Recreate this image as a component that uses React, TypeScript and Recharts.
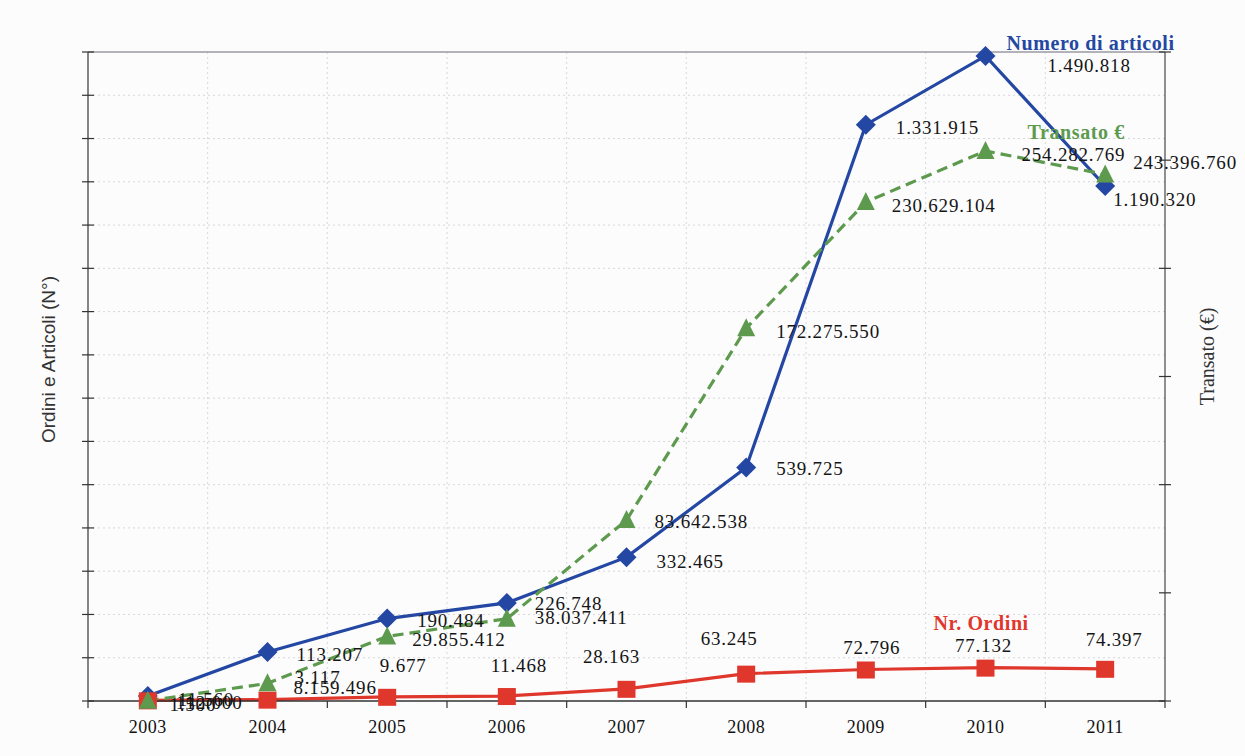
import React from 'react';
import { LineChart, Line, XAxis, YAxis, CartesianGrid, LabelList, ReferenceLine } from 'recharts';

const years = ['2003', '2004', '2005', '2006', '2007', '2008', '2009', '2010', '2011'];
const articoli = [11560, 113207, 190484, 226748, 332465, 539725, 1331915, 1490818, 1190320];
const transato = [112000, 8159496, 29855412, 38037411, 83642538, 172275550, 230629104, 254282769, 243396760];
const ordini = [1500, 3117, 9677, 11468, 28163, 63245, 72796, 77132, 74397];

const leftTicks = [0, 100000, 200000, 300000, 400000, 500000, 600000, 700000, 800000, 900000, 1000000, 1100000, 1200000, 1300000, 1400000, 1500000];
const rightTicks = [0, 50000000, 100000000, 150000000, 200000000, 250000000, 300000000];

// label offsets (px) relative to each point
const artOffsets = [[30, 4], [29, 2], [30, 2], [28, 1], [30, 4], [30, 1], [30, 3], [62, 10], [8, 14]];
const traOffsets = [[28, 2], [26, 4], [25, 3], [28, -1], [28, 1], [30, 3], [26, 3], [36, 4], [28, -12]];
const ordOffsets = [[45, 4], [50, -22], [16, -31], [12, -31], [-15, -32], [-17, -35], [6, -22], [-2, -22], [9, -29]];

const BLUE = '#2347a2';
const GREEN = '#5e9a4e';
const RED = '#e0372c';
const SERIF = '"Liberation Serif", "Times New Roman", serif';

const data = years.map((year, i) => ({
  pos: i + 0.5,
  year,
  articoli: articoli[i],
  transato: transato[i],
  ordini: ordini[i],
}));

const xTicks = years.flatMap((_, i) => [i, i + 0.5]).concat(years.length);
const boundaries = years.slice(1).map((_, i) => i + 1);

const fmt = (n: number) => String(n).replace(/\B(?=(\d{3})+(?!\d))/g, '.');

const XTick = (props: any) => {
  const { x, y, payload } = props;
  const v = payload.value;
  if (Number.isInteger(v)) {
    return <line x1={x} x2={x} y1={y} y2={y + 7} stroke="#333" strokeWidth={1.2} />;
  }
  return (
    <text x={x} y={y + 32} textAnchor="middle" fontFamily={SERIF} fontSize={18} letterSpacing={0.5} fill="#111">
      {years[Math.floor(v)]}
    </text>
  );
};

const YTick = (props: any) => {
  const { x, y } = props;
  return <line x1={x - 6} x2={x + 6} y1={y} y2={y} stroke="#333" strokeWidth={1.2} />;
};

const Diamond = (p: any) => {
  const { cx, cy } = p;
  if (cx == null || cy == null) return <g key={p.key} />;
  return (
    <path
      key={`dia-${p.index}`}
      d={`M${cx},${cy - 10} L${cx + 10},${cy} L${cx},${cy + 10} L${cx - 10},${cy} Z`}
      fill={BLUE}
    />
  );
};

const Triangle = (p: any) => {
  const { cx, cy } = p;
  if (cx == null || cy == null) return <g key={p.key} />;
  return (
    <path
      key={`tri-${p.index}`}
      d={`M${cx},${cy - 10} L${cx + 9},${cy + 8} L${cx - 9},${cy + 8} Z`}
      fill={GREEN}
    />
  );
};

const Square = (p: any) => {
  const { cx, cy } = p;
  if (cx == null || cy == null) return <g key={p.key} />;
  return <rect key={`sq-${p.index}`} x={cx - 9} y={cy - 8} width={18} height={17} fill={RED} />;
};

const valueLabel = (offsets: number[][], anchor: string) => (p: any) => {
  const { x, y, value, index } = p;
  const [dx, dy] = offsets[index];
  return (
    <text
      x={x + dx}
      y={y + dy}
      textAnchor={anchor}
      dominantBaseline="central"
      fontFamily={SERIF}
      fontSize={19}
      letterSpacing={0.8}
      fill="#151515"
    >
      {fmt(value)}
    </text>
  );
};

const nameLabel = (name: string, color: string, dx: number, dy: number) => (p: any) => {
  if (p.index !== 7) return null;
  return (
    <text
      x={p.x + dx}
      y={p.y + dy}
      dominantBaseline="central"
      fontFamily={SERIF}
      fontWeight="bold"
      fontSize={20}
      letterSpacing={0.6}
      fill={color}
    >
      {name}
    </text>
  );
};

const LeftTitle = (p: any) => {
  const vb = p.viewBox;
  const x = vb.x + 48;
  const y = vb.y + vb.height / 2 - 17;
  return (
    <text
      x={x}
      y={y}
      transform={`rotate(-90, ${x}, ${y})`}
      textAnchor="middle"
      dominantBaseline="central"
      fontFamily='"Liberation Sans", Arial, sans-serif'
      fontSize={19}
      fill="#333"
    >
      Ordini e Articoli (N°)
    </text>
  );
};

const RightTitle = (p: any) => {
  const vb = p.viewBox;
  const x = vb.x + 42;
  const y = vb.y + vb.height / 2 - 20;
  return (
    <text
      x={x}
      y={y}
      transform={`rotate(-90, ${x}, ${y})`}
      textAnchor="middle"
      dominantBaseline="central"
      fontFamily={SERIF}
      fontSize={20}
      fill="#333"
    >
      Transato (€)
    </text>
  );
};

const App = () => {
  return (
    <div style={{ position: 'absolute', left: 0, top: 0, width: 1245, height: 756, background: '#fcfcfd' }}>
      <LineChart width={1245} height={756} data={data} margin={{ top: 52, right: 0, bottom: 25, left: 0 }}>
        <CartesianGrid
          xAxisId="x"
          yAxisId="left"
          verticalValues={boundaries}
          horizontalValues={leftTicks.slice(1, -1)}
          stroke="#d6d6dc"
          strokeDasharray="2 3"
        />
        <XAxis
          xAxisId="x"
          dataKey="pos"
          type="number"
          domain={[0, years.length]}
          ticks={xTicks}
          interval={0}
          allowDecimals
          tickSize={0}
          tickMargin={0}
          tickLine={false}
          tick={<XTick />}
          height={30}
          axisLine={{ stroke: '#333', strokeWidth: 1.5 }}
        />
        <YAxis
          yAxisId="left"
          orientation="left"
          width={88}
          domain={[0, 1500000]}
          ticks={leftTicks}
          interval={0}
          tickSize={0}
          tickMargin={0}
          tickLine={false}
          tick={<YTick />}
          axisLine={{ stroke: '#444', strokeWidth: 1.3 }}
          label={<LeftTitle />}
        />
        <YAxis
          yAxisId="right"
          orientation="right"
          width={80}
          domain={[0, 300000000]}
          ticks={rightTicks}
          interval={0}
          tickSize={0}
          tickMargin={0}
          tickLine={false}
          tick={<YTick />}
          axisLine={{ stroke: '#555', strokeWidth: 1.3 }}
          label={<RightTitle />}
        />
        <ReferenceLine xAxisId="x" yAxisId="left" y={1500000} stroke="#9a9aa0" strokeWidth={1.5} />
        <Line
          xAxisId="x"
          yAxisId="left"
          dataKey="articoli"
          stroke={BLUE}
          strokeWidth={3.2}
          dot={Diamond}
          isAnimationActive={false}
        >
          <LabelList dataKey="articoli" content={valueLabel(artOffsets, 'start')} />
          <LabelList dataKey="articoli" content={nameLabel('Numero di articoli', BLUE, 21, -13)} />
        </Line>
        <Line
          xAxisId="x"
          yAxisId="left"
          dataKey="ordini"
          stroke={RED}
          strokeWidth={3.2}
          dot={Square}
          isAnimationActive={false}
        >
          <LabelList dataKey="ordini" content={valueLabel(ordOffsets, 'middle')} />
          <LabelList dataKey="ordini" content={nameLabel('Nr. Ordini', RED, -52, -45)} />
        </Line>
        <Line
          xAxisId="x"
          yAxisId="right"
          dataKey="transato"
          stroke={GREEN}
          strokeWidth={3.2}
          strokeDasharray="11 6"
          dot={Triangle}
          isAnimationActive={false}
        >
          <LabelList dataKey="transato" content={valueLabel(traOffsets, 'start')} />
          <LabelList dataKey="transato" content={nameLabel('Transato €', GREEN, 42, -19)} />
        </Line>
      </LineChart>
    </div>
  );
};

export default App;
